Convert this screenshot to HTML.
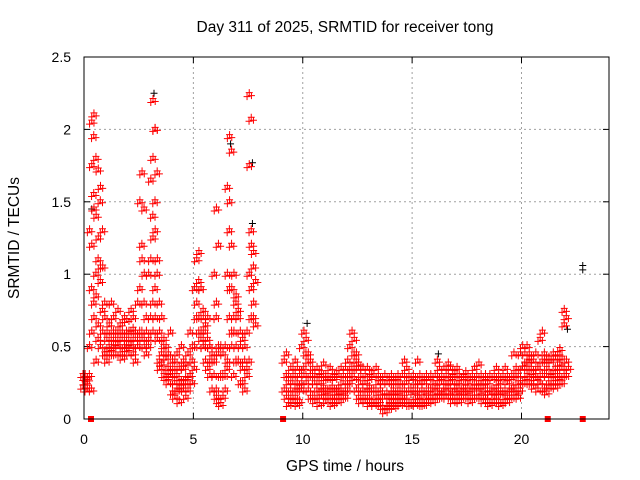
<!DOCTYPE html>
<html><head><meta charset="utf-8"><style>
body{margin:0;background:#fff}
svg{display:block;font-family:"Liberation Sans",sans-serif}
</style></head><body>
<svg id="c" width="640" height="480">
<rect width="640" height="480" fill="#fff"/>
<text x="345" y="32" font-size="15.5" text-anchor="middle">Day 311 of 2025, SRMTID for receiver tong</text>
<text x="345" y="471" font-size="15.5" text-anchor="middle">GPS time / hours</text>
<text transform="translate(19,238) rotate(-90)" font-size="15.5" text-anchor="middle">SRMTID / TECUs</text>
<g id="grid"></g><g id="marks"></g>
<rect x="84" y="57" width="525" height="362" fill="none" stroke="#000" stroke-width="1"/>
</svg>
<script>
const xTicks=[0,5,10,15,20];
const yTicks=[0,0.5,1,1.5,2,2.5];
const yTickLabels=["0","0.5","1","1.5","2","2.5"];
const hours=[0,0.1,0.2,0.3,0.4,0.5,0.6,0.7,0.8,0.9,1.0,1.1,1.2,1.3,1.4,1.5,1.6,1.7,1.8,1.9,2.0,2.1,2.2,2.3,2.4,2.5,2.6,2.7,2.8,2.9,3.0,3.1,3.2,3.3,3.4,3.5,3.6,3.7,3.8,3.9,4.0,4.1,4.2,4.3,4.4,4.5,4.6,4.7,4.8,4.9,5.0,5.1,5.2,5.3,5.4,5.5,5.6,5.7,5.8,5.9,6.0,6.1,6.2,6.3,6.4,6.5,6.6,6.7,6.8,6.9,7.0,7.1,7.2,7.3,7.4,7.5,7.6,7.7,7.8,9.2,9.3,9.4,9.5,9.6,9.7,9.8,9.9,10.0,10.1,10.2,10.3,10.4,10.5,10.6,10.7,10.8,10.9,11.0,11.1,11.2,11.3,11.4,11.5,11.6,11.7,11.8,11.9,12.0,12.1,12.2,12.3,12.4,12.5,12.6,12.7,12.8,12.9,13.0,13.1,13.2,13.3,13.4,13.5,13.6,13.7,13.8,13.9,14.0,14.1,14.2,14.3,14.4,14.5,14.6,14.7,14.8,14.9,15.0,15.1,15.2,15.3,15.4,15.5,15.6,15.7,15.8,15.9,16.0,16.1,16.2,16.3,16.4,16.5,16.6,16.7,16.8,16.9,17.0,17.1,17.2,17.3,17.4,17.5,17.6,17.7,17.8,17.9,18.0,18.1,18.2,18.3,18.4,18.5,18.6,18.7,18.8,18.9,19.0,19.1,19.2,19.3,19.4,19.5,19.6,19.7,19.8,19.9,20.0,20.1,20.2,20.3,20.4,20.5,20.6,20.7,20.8,20.9,21.0,21.1,21.2,21.3,21.4,21.5,21.6,21.7,21.8,21.9,22.0,22.1];
const values=[[.22,.28,.3],[.25,.2,.3],[.27,.3,.22],[.5,.9,1.3,.2],[2.05,1.95,1.75,1.55,1.2,.8,.6],[2.1,1.8,1.45,1.0,.7],[1.4,1.1,.85,.55,.4],[1.72,1.5,1.25,.95,.65],[1.6,1.3,1.05,.75,.5],[1.05,.8,.6,.45],[.7,.55,.45,.4],[.6,.5,.45],[.65,.55,.48],[.8,.6,.5],[.7,.55,.45],[.6,.52,.45],[.75,.6,.5],[.65,.55,.45],[.6,.5,.42],[.7,.6,.5],[.68,.55,.48],[.6,.52,.45],[.75,.62,.5],[.7,.55,.45],[.6,.5,.4],[.8,.6,.5],[1.5,1.2,.9,.6],[1.7,1.45,1.1,.8,.55],[1.0,.7,.5],[.6,.5,.45],[1.0,.7,.55],[1.65,1.4,1.1,.8],[2.2,2.0,1.8,1.5,1.25,.9,.6],[2.0,1.7,1.3,1.0,.7],[1.1,.8,.55,.4],[.6,.45,.35],[.7,.5,.38],[.55,.42,.3],[.5,.35,.28],[.45,.32,.25],[.6,.4,.3],[.35,.25,.18],[.4,.3,.15],[.45,.28,.2],[.35,.22,.12],[.5,.35,.25],[.4,.28,.2],[.38,.25,.15],[.45,.3,.2],[.6,.4,.3],[.5,.35,.25],[.9,.7,.5],[1.1,.95,.8,.6],[1.15,.9,.7,.55],[.9,.75,.6,.5],[.7,.6,.5],[.65,.55,.4],[.7,.5,.35],[.5,.4,.3],[.45,.3,.2],[1.0,.7,.4,.2],[1.45,1.2,.8,.5,.15],[.45,.3,.12],[.5,.3,.1],[.45,.3,.15],[.5,.35,.2],[1.6,1.3,1.0,.7,.4],[1.95,1.85,1.5,1.2,.9,.6],[.9,.7,.5,.3],[1.0,.8,.6,.4],[.85,.7,.5],[.75,.6,.4],[.5,.35,.25],[.55,.4,.25],[.5,.35,.2],[.6,.4,.3],[2.24,2.07,1.75,1.3,1.0,.7],[1.2,1.05,.9,.7],[1.15,.95,.8,.65],[.4,.3,.2],[.45,.25,.15],[.3,.2,.1],[.35,.25,.15],[.3,.2,.12],[.4,.25,.15],[.35,.22,.1],[.3,.2,.12],[.5,.35,.25],[.6,.45,.3],[.55,.4,.25],[.45,.3,.2],[.4,.3,.15],[.35,.25,.15],[.3,.2,.12],[.35,.25,.15],[.3,.2,.1],[.32,.22,.15],[.38,.28,.18],[.3,.2,.12],[.28,.2,.15],[.35,.22,.15],[.3,.2,.1],[.28,.18,.12],[.32,.22,.15],[.3,.2,.12],[.35,.25,.18],[.3,.2,.15],[.35,.25,.15],[.4,.3,.2],[.5,.35,.25],[.6,.45,.3],[.55,.4,.28],[.45,.35,.2],[.38,.25,.15],[.3,.2,.12],[.35,.25,.15],[.3,.2,.12],[.35,.22,.15],[.28,.2,.1],[.32,.2,.12],[.3,.2,.1],[.35,.25,.15],[.3,.2,.12],[.28,.18,.1],[.25,.15,.08],[.3,.18,.05],[.25,.15,.08],[.28,.18,.1],[.3,.2,.12],[.25,.15,.08],[.28,.18,.1],[.3,.2,.12],[.25,.15,.1],[.3,.2,.12],[.4,.25,.15],[.35,.2,.12],[.3,.2,.1],[.28,.18,.1],[.3,.2,.12],[.25,.15,.1],[.4,.25,.15],[.3,.2,.12],[.28,.18,.1],[.25,.15,.1],[.3,.2,.12],[.28,.2,.12],[.3,.2,.15],[.25,.18,.12],[.3,.22,.15],[.4,.28,.18],[.35,.25,.15],[.3,.2,.15],[.35,.25,.18],[.3,.22,.15],[.38,.28,.18],[.35,.25,.15],[.3,.2,.12],[.32,.22,.15],[.35,.25,.18],[.3,.2,.12],[.28,.2,.15],[.3,.22,.15],[.32,.25,.18],[.3,.2,.15],[.28,.2,.12],[.3,.22,.15],[.35,.25,.15],[.3,.22,.15],[.38,.25,.18],[.3,.22,.15],[.28,.2,.12],[.3,.2,.15],[.25,.18,.12],[.3,.2,.1],[.28,.18,.12],[.3,.22,.15],[.35,.25,.18],[.3,.2,.12],[.28,.18,.1],[.3,.2,.12],[.35,.25,.15],[.3,.2,.12],[.28,.2,.15],[.3,.22,.15],[.45,.3,.2],[.35,.25,.18],[.3,.2,.15],[.45,.35,.25],[.5,.38,.25],[.45,.35,.28],[.5,.4,.3],[.45,.35,.25],[.42,.32,.25],[.4,.3,.22],[.45,.35,.28],[.35,.25,.2],[.55,.4,.25],[.6,.45,.3],[.4,.3,.2],[.35,.25,.18],[.42,.3,.22],[.4,.32,.25],[.45,.35,.25],[.42,.3,.22],[.45,.38,.28],[.48,.35,.25],[.42,.3,.25],[.75,.7,.65],[.4,.35,.3]];
const blackHours=[0.35,3.2,6.7,7.7,7.7,22.8,22.8,22.1,16.2,10.2];
const blackValues=[1.45,2.25,1.9,1.77,1.35,1.06,1.03,0.62,0.45,0.66];
const gapHours=[0.32,9.1,21.2,22.8];
const NS="http://www.w3.org/2000/svg";
const X0=84,X1=609,Y0=419,Y1=57,XMAX=24,YMAX=2.5;
const xs=h=>X0+h/XMAX*(X1-X0), ys=v=>Y0-v/YMAX*(Y0-Y1);
const grid=document.getElementById('grid'), marks=document.getElementById('marks');
function mk(t,a,p){const e=document.createElementNS(NS,t);for(const k in a)e.setAttribute(k,a[k]);p.appendChild(e);return e;}
xTicks.forEach(t=>{const x=xs(t);
 if(t>0){const g=mk('line',{x1:x,x2:x,y1:Y1,y2:Y0,stroke:'#a0a0a0','stroke-dasharray':'2,3'},grid);
 
 }
 mk('line',{x1:x,x2:x,y1:Y0,y2:Y0-6,stroke:'#000'},grid);mk('line',{x1:x,x2:x,y1:Y1,y2:Y1+6,stroke:'#000'},grid);
 const l=mk('text',{x:x,y:444,'font-size':14,'text-anchor':'middle'},grid);l.textContent=t;
 
 });
yTicks.forEach((t,i)=>{const y=ys(t);
 if(t>0&&t<YMAX){const g=mk('line',{x1:X0,x2:X1,y1:y,y2:y,stroke:'#a0a0a0','stroke-dasharray':'2,3'},grid);
 
 }
 mk('line',{x1:X0,x2:X0+6,y1:y,y2:y,stroke:'#000'},grid);mk('line',{x1:X1,x2:X1-6,y1:y,y2:y,stroke:'#000'},grid);
 const l=mk('text',{x:71,y:y+5,'font-size':14,'text-anchor':'end'},grid);l.textContent=yTickLabels[i];
 
 });
function plus(x,y){return `M${x-3.5},${y}h7M${x},${y-3.5}v7`;}
const jx=[-2.2,0,2.2], jy=[2,-2,1];
let bd='';blackHours.forEach((h,i)=>{bd+=plus(xs(h),ys(blackValues[i]));});
const bp=mk('path',{d:bd,stroke:'#000','stroke-width':1,fill:'none'},marks);


let rd='';hours.forEach((h,i)=>{values[i].forEach((v,j)=>{for(let k=0;k<3;k++)rd+=plus(xs(h)+jx[k]+(j%2?1:-1),ys(v)+jy[k]);});});
const rp=mk('path',{d:rd,stroke:'#f00','stroke-width':1,fill:'none'},marks);


gapHours.forEach(h=>{const r=mk('rect',{x:xs(h)-3,y:Y0-3,width:6,height:6,fill:'#f00'},marks);
 
 });
</script>
</body></html>
